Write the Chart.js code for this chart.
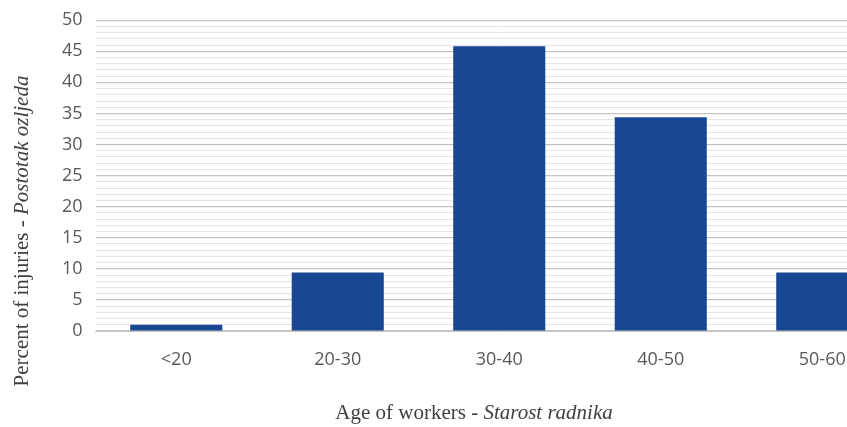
<!DOCTYPE html>
<html>
<head>
<meta charset="utf-8">
<script src="https://cdn.jsdelivr.net/npm/chart.js@4"></script>
<style>
  html, body { margin: 0; padding: 0; background: #fff; overflow: hidden; }
  #wrap { width: 847px; height: 427px; overflow: hidden; position: relative; }
</style>
</head>
<body>
<div id="wrap"><canvas id="injuryChart" width="903" height="427"></canvas></div>
<script>
const ageGroups = ['<20', '20-30', '30-40', '40-50', '50-60'];
const injuryPercent = [1, 9.4, 45.8, 34.4, 9.4];
const yMax = 50;

// axis titles with a roman and an italic part
const axisTitles = {
    id: 'axisTitles',
    afterDraw(chart) {
        const ctx = chart.ctx;
        ctx.save();
        ctx.fillStyle = '#404040';
        ctx.textBaseline = 'middle';

        const xParts = [['Age of workers - ', ''], ['Starost radnika', 'italic ']];
        drawParts(ctx, xParts, 474, 413);

        ctx.translate(22, 231);
        ctx.rotate(-Math.PI / 2);
        const yParts = [['Percent of injuries - ', ''], ['Postotak ozljeda', 'italic ']];
        drawParts(ctx, yParts, 0, 0);
        ctx.restore();
    }
};

function drawParts(ctx, parts, cx, cy) {
    let total = 0;
    parts.forEach(p => {
        ctx.font = p[1] + '21px "Liberation Serif"';
        total += ctx.measureText(p[0]).width;
    });
    let x = cx - total / 2;
    ctx.textAlign = 'left';
    parts.forEach(p => {
        ctx.font = p[1] + '21px "Liberation Serif"';
        ctx.fillText(p[0], x, cy);
        x += ctx.measureText(p[0]).width;
    });
}

const ctx = document.getElementById('injuryChart').getContext('2d');
const chart = new Chart(ctx, {
    type: 'bar',
    data: {
        labels: ageGroups,
        datasets: [{
            data: injuryPercent,
            backgroundColor: '#1a4794',
            borderWidth: 0,
            categoryPercentage: 0.57,
            barPercentage: 1
        }]
    },
    options: {
        responsive: false,
        animation: false,
        layout: { padding: { top: 10, left: 0, right: 0, bottom: 0 } },
        plugins: {
            legend: { display: false },
            tooltip: { enabled: false }
        },
        scales: {
            y: {
                min: 0,
                max: yMax,
                afterFit(scale) { scale.width = 95.5; },
                border: { display: false },
                grid: {
                    drawTicks: false,
                    color: c => (c.tick.value % 5 === 0 ? '#c4c4c4' : '#e4e4e4'),
                    lineWidth: c => (c.tick.value % 5 === 0 ? 1.2 : 1)
                },
                ticks: {
                    stepSize: 1,
                    autoSkip: false,
                    padding: 13,
                    color: '#595959',
                    font: { family: '"Open Sans"', size: 18, lineHeight: 0.8 },
                    callback: v => (v % 5 === 0 ? v : '')
                }
            },
            x: {
                afterFit(scale) { scale.height = 96; },
                border: { display: true, color: '#c4c4c4' },
                grid: { display: false },
                ticks: {
                    padding: 10,
                    color: '#595959',
                    font: { family: '"Open Sans"', size: 18 }
                }
            }
        }
    },
    plugins: [axisTitles]
});
</script>
</body>
</html>
